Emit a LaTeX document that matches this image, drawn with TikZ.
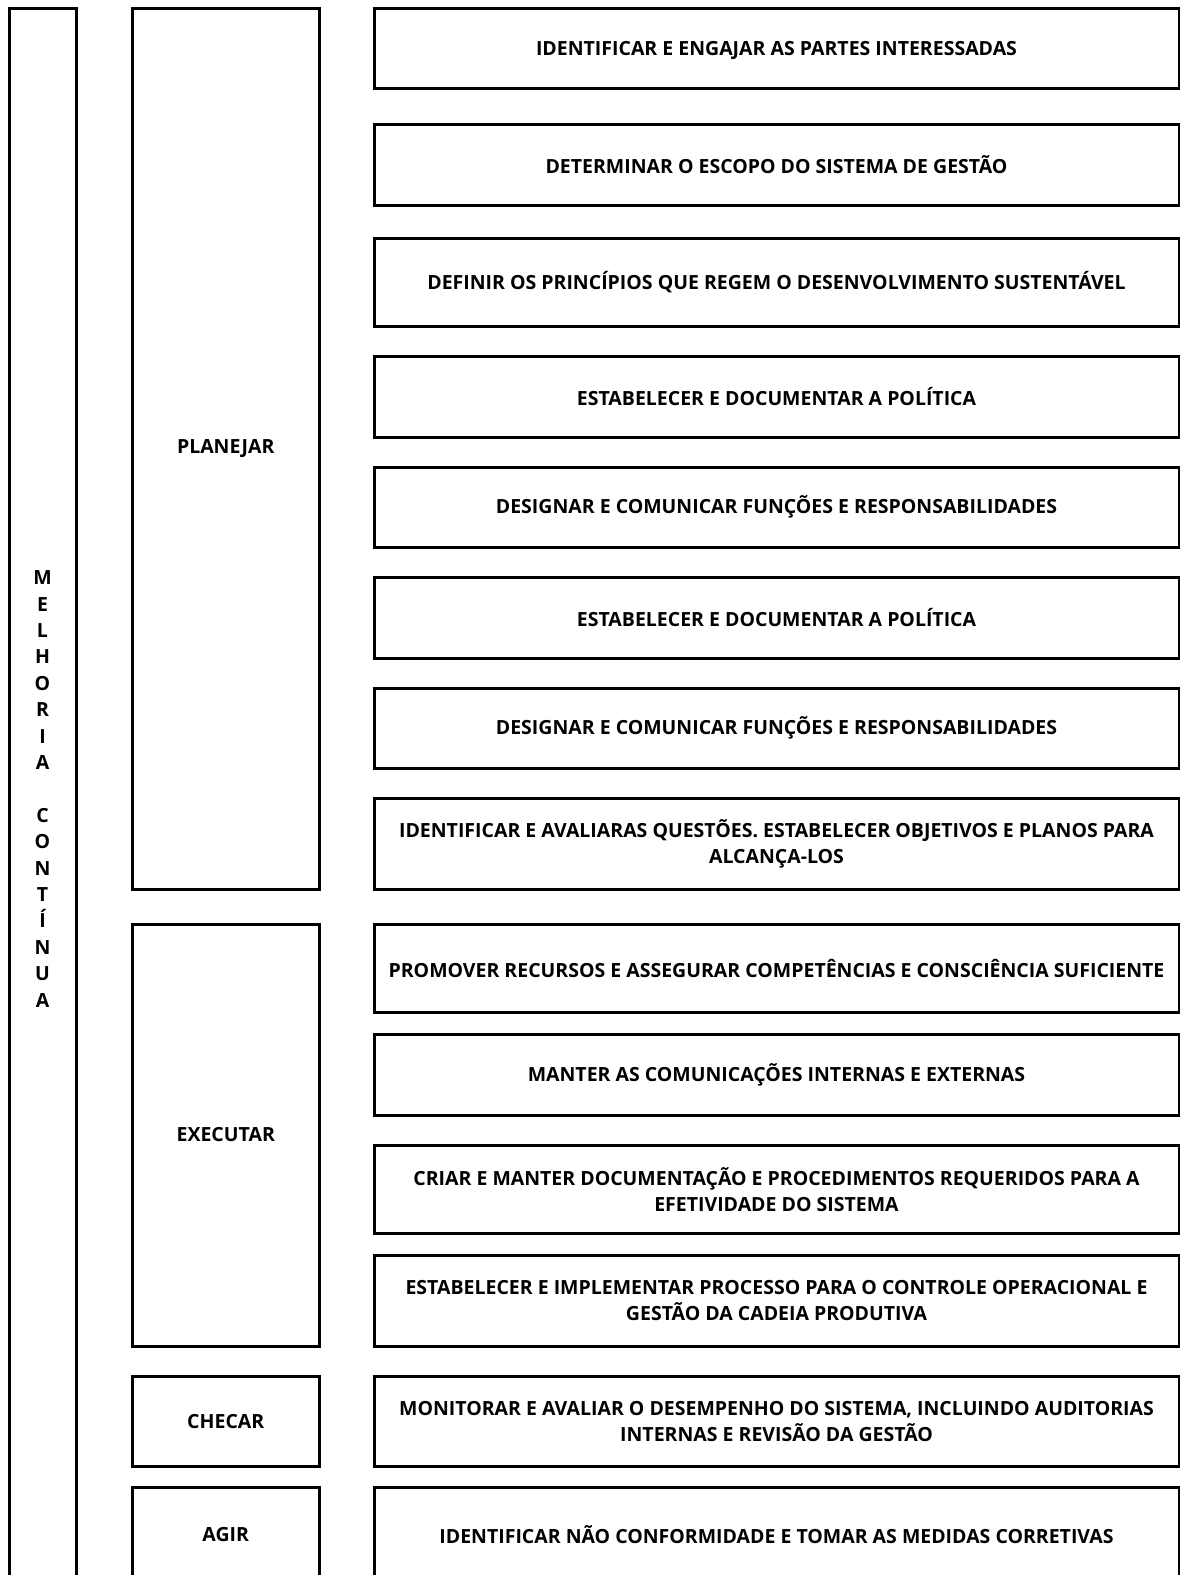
\documentclass[tikz,border=0pt]{standalone}
\usepackage{fontspec}
\setmainfont{Open Sans}
\usepackage{tikz}

\tikzset{
	stepbox/.style={draw, line width=3pt, minimum width=805pt, inner sep=0pt, align=center,
		font=\bfseries\fontsize{19.5}{26}\selectfont},
	phasebox/.style={draw, line width=3pt, minimum width=186.5pt, inner sep=0pt, align=center,
		font=\bfseries\fontsize{19.5}{26}\selectfont},
	stacklabel/.style={inner sep=0pt, align=center, font=\bfseries\fontsize{19.5}{26.4}\selectfont}
}

\begin{document}
\begin{tikzpicture}[x=1pt, y=-1pt]

	\useasboundingbox (0,0) rectangle (1180,1575);
	\clip (0,0) rectangle (1180,1575);

	% coluna da esquerda
	\node [phasebox, minimum width=67pt, minimum height=1575pt] (melhoria) at (42.5, 795.5) {};
	\node [stacklabel] (melhoriatxt) at (42.5, 789)
		{M\\E\\L\\H\\O\\R\\I\\A\\~\\C\\O\\N\\T\\Í\\N\\U\\A};

	% fases
	\foreach \ytop/\ybot/\nome/\txt in {8/889/planejar/PLANEJAR, 924/1346/executar/EXECUTAR,
		1376/1466.5/checar/CHECAR, 1487/1583/agir/AGIR}
	{
	\node [phasebox, minimum height={\ybot-\ytop}] (\nome) at (225.75, {(\ytop+\ybot)/2}) {\txt};
	}

	% etapas
	\foreach \ytop/\ybot/\txt [count=\i] in {
		8/88.4/IDENTIFICAR E ENGA\smash{J}AR AS PARTES INTERESSADAS,
		124.6/205/DETERMINAR O ESCOPO DO SISTEMA DE GESTÃO,
		238/326.5/DEFINIR OS PRINCÍPIOS QUE REGEM O DESENVOLVIMENTO SUSTENTÁVEL,
		356.6/437/ESTABELECER E DOCUMENTAR A POLÍTICA,
		467/547.5/DESIGNAR E COMUNICAR FUNÇÕES E RESPONSABILIDADES,
		577.6/658/ESTABELECER E DOCUMENTAR A POLÍTICA,
		688/768.5/DESIGNAR E COMUNICAR FUNÇÕES E RESPONSABILIDADES,
		798.6/889/{IDENTIFICAR E AVALIARAS QUESTÕES. ESTABELECER OBJETIVOS E PLANOS PARA\\ALCANÇA-LOS},
		924/1012.5/PROMOVER RECURSOS E ASSEGURAR COMPETÊNCIAS E CONSCIÊNCIA SUFICIENTE,
		1034.6/1115/MANTER AS COMUNICAÇÕES INTERNAS E EXTERNAS,
		1145/1233.5/{CRIAR E MANTER DOCUMENTAÇÃO E PROCEDIMENTOS REQUERIDOS PARA A\\EFETIVIDADE DO SISTEMA},
		1255.6/1346/{ESTABELECER E IMPLEMENTAR PROCESSO PARA O CONTROLE OPERACIONAL E\\GESTÃO DA CADEIA PRODUTIVA},
		1376/1466.5/{MONITORAR E AVALIAR O DESEMPENHO DO SISTEMA, INCLUINDO AUDITORIAS\\INTERNAS E REVISÃO DA GESTÃO},
		1487/1583/IDENTIFICAR NÃO CONFORMIDADE E TOMAR AS MEDIDAS CORRETIVAS}
	{
	\node [stepbox, minimum height={\ybot-\ytop}] (etapa\i) at (776.5, {(\ytop+\ybot)/2}) {\txt};
	}

\end{tikzpicture}
\end{document}
